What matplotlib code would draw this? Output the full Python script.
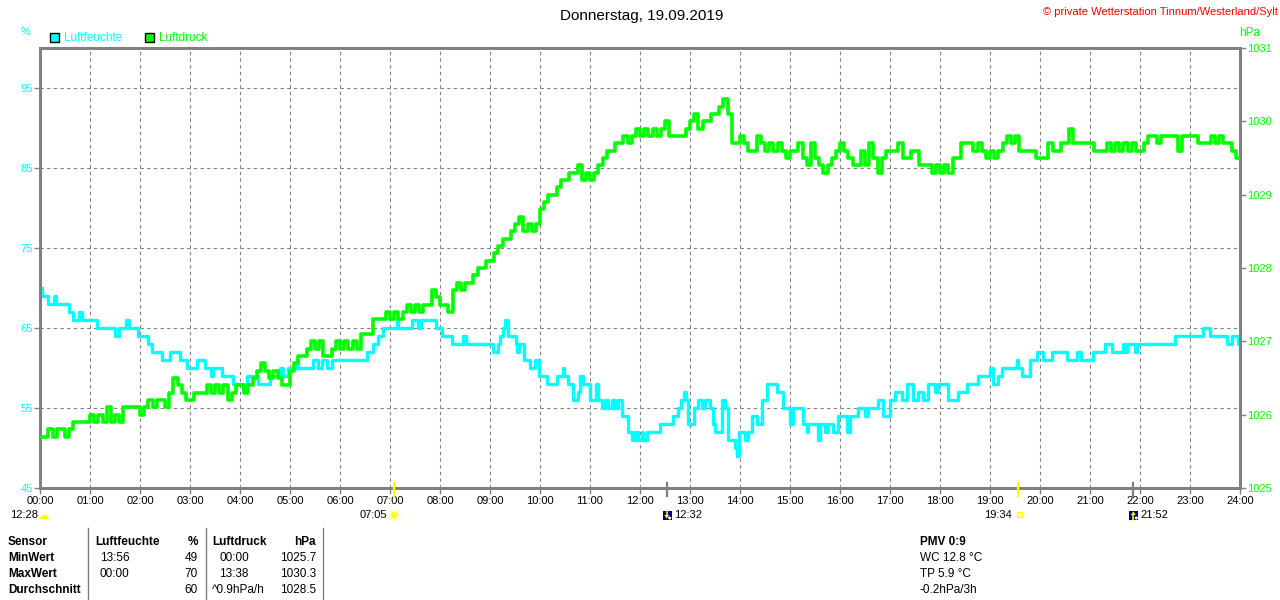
import numpy as np
import matplotlib
matplotlib.use("Agg")
import matplotlib.pyplot as plt
from matplotlib.patches import Rectangle, Wedge, Circle, Polygon
from matplotlib.transforms import Affine2D

plt.rcParams["font.family"] = ["Liberation Sans", "DejaVu Sans"]

W, H = 1280, 600
CYAN = "#00ffff"
GREEN = "#00ff00"
GREY = "#808080"
YELLOW = "#ffff00"

title = "Donnerstag, 19.09.2019"
copyright_txt = "\u00a9 private Wetterstation Tinnum/Westerland/Sylt"

# Luftfeuchte (%) - Wechselzeitpunkte und Werte (Treppe)
hum_times = ["00:00", "00:02", "00:10", "00:17", "00:19", "00:35", "00:40", "00:47", "00:50",
             "01:08", "01:30", "01:35", "01:43", "01:47", "01:58", "02:10", "02:14", "02:26",
             "02:36", "02:48", "02:56", "03:08", "03:18", "03:25", "03:28", "03:38", "03:52",
             "04:04", "04:08", "04:22", "04:36", "04:48", "04:52", "04:58", "05:08", "05:10",
             "05:28", "05:34", "05:38", "05:44", "05:50", "06:32", "06:40", "06:46", "06:52",
             "07:08", "07:10", "07:26", "07:34", "07:37", "07:55", "08:02", "08:14", "08:28",
             "08:31", "09:04", "09:09", "09:12", "09:15", "09:18", "09:22", "09:31", "09:32",
             "09:35", "09:41", "09:48", "09:54", "09:59", "10:08", "10:20", "10:27", "10:29",
             "10:34", "10:39", "10:46", "10:48", "10:51", "11:00", "11:07", "11:09", "11:14",
             "11:18", "11:22", "11:26", "11:30", "11:34", "11:38", "11:45", "11:50", "11:54",
             "11:58", "12:02", "12:04", "12:08", "12:24", "12:40", "12:46", "12:49", "12:53",
             "12:55", "12:58", "13:05", "13:09", "13:14", "13:18", "13:24", "13:28", "13:30",
             "13:38", "13:42", "13:46", "13:54", "13:56", "13:59", "14:06", "14:10", "14:14",
             "14:20", "14:26", "14:32", "14:44", "14:52", "15:00", "15:04", "15:16", "15:20",
             "15:22", "15:34", "15:36", "15:42", "15:46", "15:52", "15:58", "16:08", "16:12",
             "16:22", "16:30", "16:34", "16:46", "16:52", "17:00", "17:06", "17:14", "17:20",
             "17:28", "17:34", "17:40", "17:46", "17:54", "17:58", "18:10", "18:22", "18:32",
             "18:46", "19:00", "19:04", "19:10", "19:14", "19:32", "19:34", "19:38", "19:48",
             "19:56", "20:04", "20:14", "20:32", "20:44", "20:49", "21:04", "21:18", "21:26",
             "21:40", "21:42", "21:44", "21:54", "21:56", "22:42", "23:16", "23:24", "23:44",
             "23:50", "23:58", "24:00"]
hum_values = [70, 69, 68, 69, 68, 67, 66, 67, 66,
              65, 64, 65, 66, 65, 64, 63, 62, 61,
              62, 61, 60, 61, 60, 59, 60, 59, 58,
              57, 59, 58, 59, 60, 59, 60, 61, 60,
              61, 60, 61, 60, 61, 62, 63, 64, 65,
              66, 65, 66, 65, 66, 65, 64, 63, 64,
              63, 62, 63, 64, 65, 66, 64, 63, 62,
              63, 61, 60, 61, 59, 58, 59, 60, 59,
              58, 56, 57, 59, 58, 56, 58, 56, 55,
              56, 55, 56, 55, 56, 54, 52, 51, 52,
              51, 52, 51, 52, 53, 54, 55, 56, 57,
              56, 53, 55, 56, 55, 56, 55, 53, 52,
              56, 55, 51, 50, 49, 52, 51, 52, 54,
              53, 56, 58, 57, 55, 53, 55, 53, 52,
              53, 51, 53, 52, 53, 52, 54, 52, 54,
              55, 54, 55, 56, 54, 56, 57, 56, 58,
              56, 57, 56, 58, 57, 58, 56, 57, 58,
              59, 60, 58, 59, 60, 61, 60, 59, 61,
              62, 61, 62, 61, 62, 61, 62, 63, 62,
              63, 62, 63, 62, 63, 64, 65, 64, 63,
              64, 63, 63]

# Luftdruck (hPa) - alle 5 Minuten, eine Zeile je Stunde
pres_step_min = 5
pres_values = [
    1025.7, 1025.7, 1025.8, 1025.7, 1025.8, 1025.8, 1025.7, 1025.8, 1025.9, 1025.9, 1025.9, 1025.9,
    1026.0, 1025.9, 1026.0, 1025.9, 1026.1, 1025.9, 1026.0, 1025.9, 1026.1, 1026.1, 1026.1, 1026.1,
    1026.0, 1026.1, 1026.2, 1026.1, 1026.2, 1026.2, 1026.1, 1026.3, 1026.5, 1026.4, 1026.3, 1026.2,
    1026.2, 1026.3, 1026.3, 1026.3, 1026.4, 1026.3, 1026.4, 1026.3, 1026.4, 1026.2, 1026.3, 1026.4,
    1026.4, 1026.3, 1026.4, 1026.5, 1026.6, 1026.7, 1026.6, 1026.5, 1026.6, 1026.5, 1026.4, 1026.4,
    1026.6, 1026.7, 1026.8, 1026.8, 1026.9, 1027.0, 1026.9, 1027.0, 1026.8, 1026.8, 1026.9, 1027.0,
    1026.9, 1027.0, 1026.9, 1027.0, 1026.9, 1027.1, 1027.1, 1027.1, 1027.3, 1027.3, 1027.3, 1027.4,
    1027.3, 1027.4, 1027.3, 1027.4, 1027.5, 1027.4, 1027.5, 1027.4, 1027.5, 1027.5, 1027.7, 1027.6,
    1027.5, 1027.5, 1027.4, 1027.7, 1027.8, 1027.7, 1027.8, 1027.8, 1027.9, 1028.0, 1028.0, 1028.1,
    1028.1, 1028.2, 1028.3, 1028.4, 1028.4, 1028.5, 1028.6, 1028.7, 1028.5, 1028.6, 1028.5, 1028.6,
    1028.8, 1028.9, 1029.0, 1029.0, 1029.1, 1029.2, 1029.2, 1029.3, 1029.3, 1029.4, 1029.2, 1029.3,
    1029.2, 1029.3, 1029.4, 1029.5, 1029.6, 1029.6, 1029.7, 1029.7, 1029.8, 1029.7, 1029.8, 1029.9,
    1029.8, 1029.9, 1029.8, 1029.9, 1029.8, 1029.9, 1030.0, 1029.8, 1029.8, 1029.8, 1029.8, 1029.9,
    1030.0, 1030.1, 1029.9, 1030.0, 1030.0, 1030.1, 1030.1, 1030.2, 1030.3, 1030.1, 1029.7, 1029.7,
    1029.8, 1029.7, 1029.6, 1029.6, 1029.8, 1029.7, 1029.6, 1029.7, 1029.6, 1029.7, 1029.6, 1029.5,
    1029.6, 1029.6, 1029.7, 1029.5, 1029.4, 1029.7, 1029.5, 1029.4, 1029.3, 1029.4, 1029.5, 1029.6,
    1029.7, 1029.6, 1029.5, 1029.4, 1029.4, 1029.6, 1029.4, 1029.7, 1029.5, 1029.3, 1029.5, 1029.6,
    1029.6, 1029.6, 1029.7, 1029.5, 1029.5, 1029.6, 1029.6, 1029.4, 1029.4, 1029.4, 1029.3, 1029.4,
    1029.3, 1029.4, 1029.3, 1029.5, 1029.5, 1029.7, 1029.7, 1029.7, 1029.6, 1029.7, 1029.6, 1029.5,
    1029.6, 1029.5, 1029.6, 1029.7, 1029.8, 1029.7, 1029.8, 1029.6, 1029.6, 1029.6, 1029.6, 1029.5,
    1029.5, 1029.5, 1029.7, 1029.6, 1029.6, 1029.7, 1029.7, 1029.9, 1029.7, 1029.7, 1029.7, 1029.7,
    1029.7, 1029.6, 1029.6, 1029.6, 1029.7, 1029.6, 1029.7, 1029.6, 1029.7, 1029.6, 1029.7, 1029.6,
    1029.6, 1029.7, 1029.8, 1029.8, 1029.7, 1029.8, 1029.8, 1029.8, 1029.8, 1029.6, 1029.8, 1029.8,
    1029.8, 1029.8, 1029.7, 1029.7, 1029.7, 1029.8, 1029.7, 1029.8, 1029.7, 1029.7, 1029.6, 1029.5,
    1029.5,
]

hum_ticks = [45, 55, 65, 75, 85, 95]
pres_ticks = [1025, 1026, 1027, 1028, 1029, 1030, 1031]
hour_labels = ["%02d:00" % h for h in range(25)]

# Sonne / Mond
sun_rise, sun_set = "07:05", "19:34"
moon_set, moon_rise = "12:32", "21:52"
moon_prev = "12:28"

# Tabelle unten
tab_rows = ["Sensor", "MinWert", "MaxWert", "Durchschnitt"]
hum_col_time = ["13:56", "00:00", ""]
hum_col_val = ["49", "70", "60"]
pres_col_time = ["00:00", "13:38", "^0.9hPa/h"]
pres_col_val = ["1025.7", "1030.3", "1028.5"]
extra_lines = ["PMV 0:9", "WC 12.8 \u00b0C", "TP 5.9 \u00b0C", "-0.2hPa/3h"]

FS = 8


def hours(t):
    h, m = t.split(":")
    return int(h) + int(m) / 60.0


fig = plt.figure(figsize=(W / 100, H / 100), dpi=100)
fig.patch.set_facecolor("white")
# Pixel-Koordinaten (Ursprung oben links)
pix = Affine2D().scale(1.0 / W, -1.0 / H).translate(0, 1) + fig.transFigure

ax = fig.add_axes([40 / W, 1 - 488 / H, 1200 / W, 440 / H])
ax.set_xlim(0, 24)
ax.set_ylim(45, 100)
ax2 = ax.twinx()
ax2.set_ylim(1025, 1031)

for h in range(1, 24):
    ax.axvline(h, color=GREY, lw=0.8, ls=(0, (3, 3)), zorder=0)
for v in hum_ticks[1:]:
    ax.axhline(v, color=GREY, lw=0.8, ls=(0, (3, 3)), zorder=0)

hum_h = [hours(t) for t in hum_times]
ax.step(hum_h, hum_values, where="post", color=CYAN, lw=2.4, zorder=3)

pres_h = np.arange(len(pres_values)) * pres_step_min / 60.0
ax2.step(pres_h, pres_values, where="post", color=GREEN, lw=2.6, zorder=3)

for a in (ax, ax2):
    for s in a.spines.values():
        s.set_color(GREY)
        s.set_linewidth(2)

ax.set_xticks(range(25))
ax.set_xticklabels(hour_labels)
ax.set_yticks(hum_ticks)
ax.set_yticklabels([str(v) for v in hum_ticks])
ax.tick_params(axis="x", colors=GREY, labelcolor="black", length=4, width=1, pad=2, labelsize=FS)
ax.tick_params(axis="y", colors=GREY, labelcolor=CYAN, length=4, width=1, pad=1, labelsize=FS)
ax2.set_yticks(pres_ticks)
ax2.set_yticklabels([str(v) for v in pres_ticks])
ax2.tick_params(axis="y", colors=GREY, labelcolor=GREEN, length=4, width=1, pad=1, labelsize=FS)

# Kopf
fig.text(642, 16, title, transform=pix, ha="center", va="center", fontsize=11)
fig.text(1278, 12, copyright_txt, transform=pix, ha="right", va="center", fontsize=8, color="#ff0000")
fig.text(26, 32, "%", transform=pix, ha="center", va="center", fontsize=FS, color=CYAN)
fig.text(1250, 33, "hPa", transform=pix, ha="center", va="center", fontsize=8.5, color=GREEN)

# Legende
for x0, col, lab in [(50, CYAN, "Luftfeuchte"), (145, GREEN, "Luftdruck")]:
    fig.patches.append(Rectangle((x0, 33), 9, 9, transform=pix, facecolor=col,
                                 edgecolor="black", lw=1))
    fig.text(x0 + 14, 38, lab, transform=pix, ha="left", va="center", fontsize=8.5, color=col)

SUB_Y = 515


def xpix(t):
    return 40 + 50 * hours(t)


def vtick(t, col):
    x = xpix(t)
    fig.lines.append(plt.Line2D([x, x], [483, 496], transform=pix, color=col, lw=1.6))


def moon_icon(x, up):
    y = SUB_Y
    fig.patches.append(Rectangle((x - 4, y - 4.5), 9, 9, transform=pix, facecolor="#000080",
                                 edgecolor="none"))
    fig.patches.append(Circle((x + 3, y + 3), 1.5, transform=pix, facecolor="white", edgecolor="none"))
    if up:
        tri = [(x - 2.5, y), (x + 2.5, y), (x, y - 3.5)]
        fig.lines.append(plt.Line2D([x, x], [y, y + 4.5], transform=pix, color=YELLOW, lw=1.2))
    else:
        tri = [(x - 2.5, y), (x + 2.5, y), (x, y + 3.5)]
        fig.lines.append(plt.Line2D([x, x], [y - 3.5, y], transform=pix, color=YELLOW, lw=1.2))
    fig.patches.append(Polygon(tri, closed=True, transform=pix, facecolor=YELLOW, edgecolor="none"))


# 12:28 (vom Vortag)
fig.text(10, SUB_Y, moon_prev, transform=pix, ha="left", va="center", fontsize=FS)
fig.patches.append(Wedge((44.5, SUB_Y + 4), 4.5, 180, 360, transform=pix, facecolor=YELLOW,
                         edgecolor="none"))

# Sonnenaufgang
vtick(sun_rise, YELLOW)
xs = xpix(sun_rise)
fig.text(xs - 7, SUB_Y, sun_rise, transform=pix, ha="right", va="center", fontsize=FS)
for ang in np.deg2rad(np.arange(0, 360, 45)):
    fig.lines.append(plt.Line2D([xs + 3.5 * np.cos(ang), xs + 6 * np.cos(ang)],
                                [SUB_Y + 3.5 * np.sin(ang), SUB_Y + 6 * np.sin(ang)],
                                transform=pix, color="#ffff80", lw=1))
fig.patches.append(Circle((xs, SUB_Y), 3.5, transform=pix, facecolor=YELLOW, edgecolor="none"))

# Monduntergang
vtick(moon_set, GREY)
xm = xpix(moon_set)
moon_icon(xm, up=False)
fig.text(xm + 7, SUB_Y, moon_set, transform=pix, ha="left", va="center", fontsize=FS)

# Sonnenuntergang
vtick(sun_set, YELLOW)
xss = xpix(sun_set)
fig.text(xss - 6, SUB_Y, sun_set, transform=pix, ha="right", va="center", fontsize=FS)
fig.patches.append(Rectangle((xss - 1, SUB_Y - 3), 5, 5, transform=pix, facecolor="none",
                             edgecolor=YELLOW, lw=1))

# Mondaufgang
vtick(moon_rise, GREY)
xmr = xpix(moon_rise)
moon_icon(xmr, up=True)
fig.text(xmr + 7, SUB_Y, moon_rise, transform=pix, ha="left", va="center", fontsize=FS)

# Tabelle
row_y = [542, 558, 574, 590]
for y, lab in zip(row_y, tab_rows):
    fig.text(8, y, lab, transform=pix, ha="left", va="center", fontsize=8.5, fontweight="bold")
for x in (88, 205.5, 323):
    fig.lines.append(plt.Line2D([x, x], [528, 600], transform=pix, color=GREY, lw=1))
fig.text(95, row_y[0], "Luftfeuchte", transform=pix, ha="left", va="center", fontsize=8.5, fontweight="bold")
fig.text(198, row_y[0], "%", transform=pix, ha="right", va="center", fontsize=8.5, fontweight="bold")
fig.text(212, row_y[0], "Luftdruck", transform=pix, ha="left", va="center", fontsize=8.5, fontweight="bold")
fig.text(316, row_y[0], "hPa", transform=pix, ha="right", va="center", fontsize=8.5, fontweight="bold")
for i, y in enumerate(row_y[1:]):
    fig.text(100, y, hum_col_time[i], transform=pix, ha="left", va="center", fontsize=8.5)
    fig.text(198, y, hum_col_val[i], transform=pix, ha="right", va="center", fontsize=8.5)
    xt = 212 if pres_col_time[i].startswith("^") else 219
    fig.text(xt, y, pres_col_time[i], transform=pix, ha="left", va="center", fontsize=8.5)
    fig.text(316, y, pres_col_val[i], transform=pix, ha="right", va="center", fontsize=8.5)

for i, (y, s) in enumerate(zip(row_y, extra_lines)):
    fig.text(920, y, s, transform=pix, ha="left", va="center", fontsize=8.5,
             fontweight="bold" if i == 0 else "normal")

fig.savefig("out.png", dpi=100)
